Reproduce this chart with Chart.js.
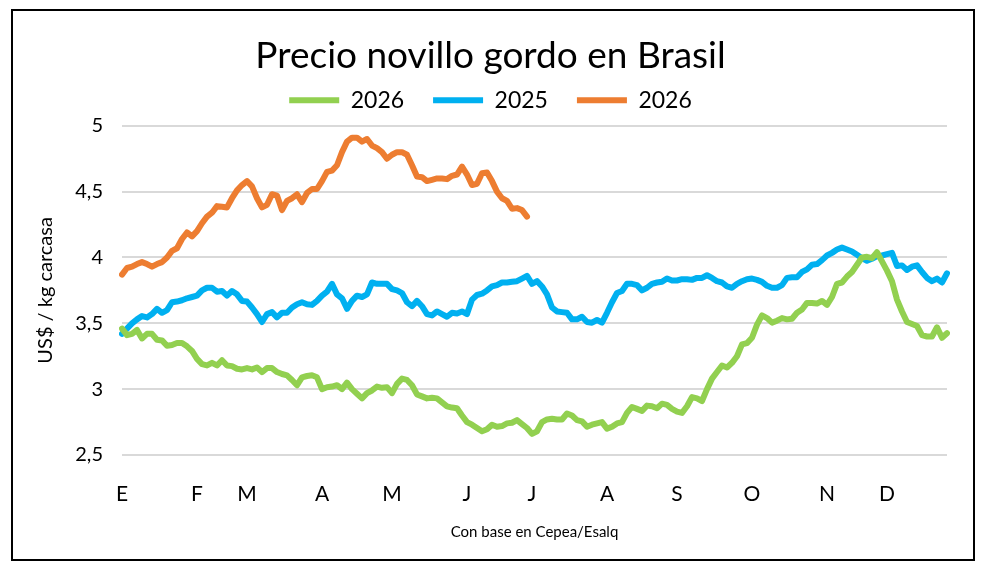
<!DOCTYPE html>
<html>
<head>
<meta charset="utf-8">
<script src="https://cdn.jsdelivr.net/npm/chart.js@4/dist/chart.umd.min.js"></script>
<style>
  html, body { margin: 0; padding: 0; background: #fff; }
  #wrap { position: relative; width: 986px; height: 570px; }
</style>
</head>
<body>
<div id="wrap"><canvas id="c" width="986" height="570"></canvas></div>
<script>
// ---- data ----
const months = ['E','F','M','A','M','J','J','A','S','O','N','D'];
const monthIndex = [0, 15, 25, 40, 54, 69, 82, 97, 111, 126, 141, 153];
const nPoints = 166;

const seriesNames = ['2026', '2025', '2026'];

const green2026 = [3.46,3.41,3.42,3.45,3.385,3.42,3.42,3.375,3.37,3.33,
3.335,3.35,3.35,3.325,3.29,3.23,3.19,3.18,3.20,3.18,
3.22,3.18,3.175,3.155,3.15,3.16,3.15,3.165,3.13,3.16,
3.16,3.13,3.115,3.105,3.07,3.03,3.09,3.10,3.105,3.09,
3.00,3.015,3.02,3.03,3.00,3.05,3.00,2.965,2.93,2.97,
2.99,3.02,3.01,3.015,2.97,3.04,3.08,3.07,3.03,2.96,
2.945,2.93,2.935,2.93,2.90,2.87,2.86,2.855,2.80,2.75,
2.73,2.705,2.68,2.695,2.73,2.715,2.72,2.74,2.745,2.765,
2.735,2.705,2.66,2.68,2.75,2.77,2.775,2.77,2.77,2.815,
2.80,2.765,2.755,2.715,2.73,2.74,2.75,2.70,2.715,2.74,
2.75,2.82,2.865,2.85,2.835,2.875,2.87,2.855,2.89,2.88,
2.85,2.83,2.82,2.87,2.94,2.93,2.91,3.00,3.08,3.13,
3.18,3.165,3.20,3.25,3.34,3.35,3.39,3.49,3.56,3.54,
3.505,3.52,3.54,3.53,3.535,3.58,3.605,3.655,3.655,3.65,
3.67,3.64,3.70,3.80,3.81,3.855,3.89,3.945,4.00,4.005,
3.995,4.04,3.97,3.90,3.82,3.68,3.59,3.51,3.495,3.48,
3.41,3.40,3.40,3.47,3.39,3.425];

const blue2025 = [3.42,3.46,3.50,3.53,3.555,3.545,3.57,3.61,3.58,3.60,
3.66,3.665,3.675,3.69,3.70,3.71,3.75,3.77,3.77,3.74,
3.745,3.71,3.745,3.72,3.67,3.665,3.62,3.57,3.51,3.57,
3.585,3.545,3.58,3.58,3.62,3.645,3.66,3.645,3.64,3.67,
3.71,3.74,3.80,3.72,3.69,3.61,3.67,3.71,3.70,3.72,
3.81,3.80,3.80,3.80,3.76,3.75,3.73,3.66,3.63,3.67,
3.63,3.57,3.56,3.59,3.57,3.55,3.58,3.575,3.59,3.57,
3.68,3.715,3.725,3.75,3.78,3.79,3.81,3.81,3.815,3.82,
3.84,3.86,3.80,3.82,3.78,3.72,3.62,3.59,3.585,3.58,
3.53,3.53,3.55,3.51,3.505,3.525,3.505,3.58,3.66,3.73,
3.745,3.80,3.80,3.79,3.75,3.77,3.80,3.81,3.815,3.84,
3.825,3.825,3.835,3.835,3.83,3.845,3.845,3.865,3.845,3.82,
3.81,3.78,3.77,3.80,3.82,3.835,3.84,3.83,3.815,3.785,
3.77,3.77,3.79,3.845,3.85,3.85,3.89,3.91,3.945,3.95,
3.98,4.015,4.035,4.06,4.075,4.06,4.045,4.02,3.995,3.975,
3.99,4.01,4.015,4.025,4.035,3.935,3.94,3.905,3.93,3.94,
3.89,3.845,3.82,3.84,3.81,3.88];

const orange2026 = [3.87,3.92,3.93,3.95,3.965,3.95,3.93,3.95,3.965,4.00,
4.05,4.07,4.14,4.19,4.16,4.20,4.26,4.31,4.34,4.39,
4.385,4.38,4.45,4.51,4.55,4.58,4.54,4.45,4.38,4.40,
4.48,4.47,4.36,4.43,4.45,4.48,4.42,4.49,4.52,4.52,
4.58,4.65,4.66,4.70,4.80,4.88,4.91,4.91,4.88,4.90,
4.85,4.83,4.80,4.75,4.78,4.80,4.80,4.78,4.70,4.615,
4.61,4.58,4.59,4.60,4.60,4.595,4.62,4.63,4.69,4.63,
4.55,4.56,4.64,4.645,4.58,4.50,4.45,4.43,4.37,4.375,
4.36,4.31];

const yTicks = [2.5, 3, 3.5, 4, 4.5, 5];

// ---- build category labels ----
const labels = [];
for (let i = 0; i < nPoints; i++) labels.push('');
monthIndex.forEach((idx, k) => { labels[idx] = months[k]; });

const FONT = 'Lato, "Open Sans", "Liberation Sans", sans-serif';

const frame = {
  id: 'frame',
  beforeDraw(chart) {
    const ctx = chart.ctx;
    ctx.save();
    ctx.fillStyle = '#ffffff';
    ctx.fillRect(0, 0, chart.width, chart.height);
    ctx.restore();
  },
  afterDraw(chart) {
    const ctx = chart.ctx;
    ctx.save();
    ctx.strokeStyle = '#000000';
    ctx.lineWidth = 2;
    ctx.strokeRect(12, 10, 962, 550);
    ctx.restore();
  }
};

const legendSpacer = {
  id: 'legendSpacer',
  afterInit(chart) {
    const lg = chart.legend;
    const orig = lg.fit;
    lg.fit = function () { orig.call(this); this.height += 4; };
  }
};

const chart = new Chart(document.getElementById('c'), {
  type: 'line',
  data: {
    labels: labels,
    datasets: [
      { label: seriesNames[0], data: green2026, borderColor: '#92D050', backgroundColor: '#92D050' },
      { label: seriesNames[1], data: blue2025, borderColor: '#00B0F0', backgroundColor: '#00B0F0' },
      { label: seriesNames[2], data: orange2026, borderColor: '#ED7D31', backgroundColor: '#ED7D31' }
    ]
  },
  options: {
    responsive: false,
    animation: false,
    events: [],
    datasets: { line: { borderWidth: 6, pointRadius: 0, tension: 0, borderJoinStyle: 'round', borderCapStyle: 'round', spanGaps: false } },
    layout: { padding: { left: 34, right: 39, top: 10, bottom: 25 } },
    plugins: {
      title: {
        display: true,
        text: 'Precio novillo gordo en Brasil',
        color: '#000',
        font: { family: FONT, size: 37, weight: 'normal', lineHeight: 0.2 },
        padding: { top: 42.4, bottom: 0 }
      },
      legend: {
        display: true,
        position: 'top',
        labels: {
          color: '#000',
          font: { family: FONT, size: 23 },
          usePointStyle: true,
          pointStyle: 'line',
          pointStyleWidth: 50,
          boxHeight: 23,
          padding: 29
        }
      },
      tooltip: { enabled: false }
    },
    scales: {
      x: {
        type: 'category',
        offset: false,
        grid: { display: false, drawTicks: false },
        border: { display: false },
        ticks: {
          autoSkip: false, maxRotation: 0, minRotation: 0,
          color: '#000', padding: 27,
          font: { family: FONT, size: 21 }
        },
        title: {
          display: true, text: 'Con base en Cepea/Esalq', color: '#000',
          font: { family: FONT, size: 15 }, padding: { top: 0, bottom: 4 }
        },
        afterFit(scale) { scale.height = 90; }
      },
      y: {
        min: 2.5, max: 5,
        afterBuildTicks(scale) { scale.ticks = yTicks.map(v => ({ value: v })); },
        grid: { color: '#D9D9D9', lineWidth: 2, drawTicks: false },
        border: { display: false },
        ticks: {
          color: '#000', padding: 19,
          font: { family: FONT, size: 20 },
          callback: v => String(v).replace('.', ',')
        },
        title: {
          display: true, text: 'US$ / kg carcasa', color: '#000',
          font: { family: FONT, size: 20 }, padding: { top: 0, bottom: 0 }
        },
        afterFit(scale) { scale.width = 88; }
      }
    }
  },
  plugins: [frame, legendSpacer]
});
</script>
</body>
</html>
